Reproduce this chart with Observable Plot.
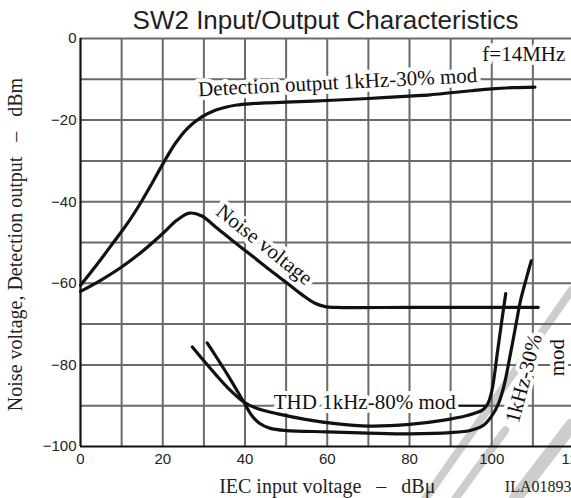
<!DOCTYPE html>
<html><head><meta charset="utf-8">
<script src="https://cdn.jsdelivr.net/npm/d3@7"></script>
<script src="https://cdn.jsdelivr.net/npm/@observablehq/plot@0.6"></script>
<style>
body{margin:0;background:#fff;}
#title{width:491px;margin-left:80px;height:33px;box-sizing:border-box;padding-top:8px;font:26px/25px "Liberation Sans",Arial,sans-serif;text-align:center;color:#222;white-space:nowrap;}
#chart svg{overflow:visible;}
</style></head><body>
<div id="title">SW2 Input/Output Characteristics</div>
<div id="chart"></div>
<script>
// ---- data ----
const xTicks = [0, 20, 40, 60, 80, 100, 120];
const yTicks = [0, -20, -40, -60, -80, -100];
const xGrid = [10, 20, 30, 40, 50, 60, 70, 80, 90, 100, 110, 120];
const yGrid = [0, -10, -20, -30, -40, -50, -60, -70, -80, -90];

const detX = [0, 4, 8, 11.5, 14.5, 17.5, 20, 23, 26, 29.5, 32.5, 35.5, 38, 41, 45, 50, 60, 70, 80, 85, 90, 95, 100, 105, 110.5];
const detY = [-60.5, -55.4, -50, -45.2, -40.5, -35.3, -30.8, -25.8, -22, -19.2, -17.7, -16.8, -16.3, -16, -15.8, -15.6, -15.2, -14.7, -14.1, -13.8, -13.3, -12.8, -12.35, -12.05, -11.9];

const noiseX = [0, 5, 10, 15, 20, 23.5, 26.5, 29.5, 33, 37.3, 42, 46, 50.3, 54, 57, 59.5, 62, 80, 100, 111.3];
const noiseY = [-62, -59.2, -56, -52.2, -47.8, -44.5, -42.8, -43.5, -46.3, -49.8, -53.5, -56.7, -60, -62.9, -64.9, -65.7, -65.9, -65.9, -65.9, -65.9];

const thdAX = [27.2, 30, 33, 36, 39.7, 43, 48, 55, 62, 70, 80, 88, 94, 97.7, 99, 100, 101.4, 102.4, 103.4];
const thdAY = [-75.6, -79, -82.5, -85.8, -89.1, -90.7, -92, -93.4, -94.4, -95, -94.6, -93.6, -92.4, -91.1, -89.6, -86.5, -76.8, -69.5, -62.5];

const thdBX = [30.8, 33, 36, 39.7, 41.5, 43.5, 46, 50, 60, 70, 80, 90, 95, 98, 100, 101.5, 103, 104.6, 106, 107, 108.5, 109.6];
const thdBY = [-74.6, -78, -82.8, -89.1, -92.2, -94.3, -95.5, -96.1, -96.4, -96.7, -96.9, -96.6, -96, -94.8, -92.5, -89.8, -85, -77, -69.5, -64.2, -58.5, -54.5];

// watermark stripes (data units)
const wm1X = [83.9, 119.4];
const wm1Y = [-112.7, -61.7];
const wm2X = [91.2, 103.3];
const wm2Y = [-112.7, -96];
const wm3X = [105.8, 119.4];
const wm3Y = [-112.7, -94.8];

// THD leader line
const leaderX = [92, 98.5];
const leaderY = -90;

// annotations
const labels = [
  {text: "Detection output 1kHz-30% mod", x: 62.6, y: -12.4, rotate: -2.9, anchor: "middle", line: "bottom"},
  {text: "f=14MHz", x: 97.7, y: -5.5, rotate: 0, anchor: "start", line: "bottom"},
  {text: "Noise voltage", x: 44.7, y: -50.5, rotate: 38.5, anchor: "middle", line: "middle"},
  {text: "THD 1kHz-80% mod", x: 47, y: -90.8, rotate: 0, anchor: "start", line: "bottom"},
  {text: "1kHz-30%", x: 107.8, y: -83.3, rotate: -75, anchor: "middle", line: "middle"},
  {text: "mod", x: 115.9, y: -78.2, rotate: -90, anchor: "middle", line: "middle"}
];

// ---- tables ----
const zip = (xs, ys) => xs.map((x, i) => ({x, y: ys[i]}));
const det = zip(detX, detY);
const noise = zip(noiseX, noiseY);
const thdA = zip(thdAX, thdAY);
const thdB = zip(thdBX, thdBY);
const wm1 = zip(wm1X, wm1Y);
const wm2 = zip(wm2X, wm2Y);
const wm3 = zip(wm3X, wm3Y);

const serif = '"Liberation Serif", "Times New Roman", serif';
const ink = "#111";
const gridColor = "#6a6a6a";
const curve = {x: "x", y: "y", curve: "catmull-rom", stroke: ink, strokeWidth: 3.2};

function labelMarks(haloOnly) {
  return labels.map((d) => Plot.text([d], {
    x: "x", y: "y", text: "text", rotate: d.rotate,
    textAnchor: d.anchor, lineAnchor: d.line,
    fontFamily: serif, fontSize: 21,
    fill: haloOnly ? "white" : ink,
    ...(haloOnly ? {stroke: "white", strokeWidth: 8} : {})
  }));
}

const chart = Plot.plot({
  width: 571,
  height: 465,
  marginTop: 5,
  marginLeft: 80,
  marginRight: -2.5,
  marginBottom: 52,
  x: {domain: [0, 120]},
  y: {domain: [-100, 0]},
  style: {fontFamily: '"Liberation Sans", Arial, sans-serif', fontSize: "15px", color: "#222", background: "white", overflow: "visible"},
  marks: [
    Plot.line(wm1, {x: "x", y: "y", stroke: "#cdcdcd", strokeWidth: 8}),
    Plot.line(wm2, {x: "x", y: "y", stroke: "#cdcdcd", strokeWidth: 8}),
    Plot.line(wm3, {x: "x", y: "y", stroke: "#cdcdcd", strokeWidth: 13}),
    Plot.ruleX(xGrid, {stroke: gridColor, strokeWidth: 2}),
    Plot.ruleY(yGrid, {stroke: gridColor, strokeWidth: 2}),
    Plot.ruleX([0], {stroke: ink, strokeWidth: 2.2}),
    Plot.ruleY([-100], {stroke: ink, strokeWidth: 2.2}),
    Plot.axisX(xTicks, {tickSize: 0, tickPadding: 7, label: null, fontSize: 15}),
    Plot.axisY(yTicks, {tickSize: 0, tickPadding: 4, label: null, fontSize: 15}),
    ...labelMarks(true),
    Plot.ruleY([{y: leaderY, x1: leaderX[0], x2: leaderX[1]}], {y: "y", x1: "x1", x2: "x2", stroke: ink, strokeWidth: 2}),
    Plot.line(det, curve),
    Plot.line(noise, curve),
    Plot.line(thdA, curve),
    Plot.line(thdB, curve),
    ...labelMarks(false),
    Plot.text(["IEC input voltage\u00a0\u00a0\u00a0–\u00a0\u00a0\u00a0dBμ"], {frameAnchor: "bottom", dy: 46.7, fontFamily: serif, fontSize: 20, fill: "#222", textAnchor: "middle", lineAnchor: "bottom"}),
    Plot.text(["Noise voltage, Detection output\u00a0\u00a0\u00a0–\u00a0\u00a0\u00a0dBm"], {frameAnchor: "left", dx: -59, dy: 2, rotate: -90, fontFamily: serif, fontSize: 20, fill: "#222", textAnchor: "middle", lineAnchor: "bottom"}),
    Plot.text(["ILA01893"], {frameAnchor: "bottom-right", dx: -2.5, dy: 45, fontFamily: serif, fontSize: 16, fill: "#222", textAnchor: "end", lineAnchor: "bottom"})
  ]
});
document.getElementById("chart").appendChild(chart);
</script>
</body></html>
